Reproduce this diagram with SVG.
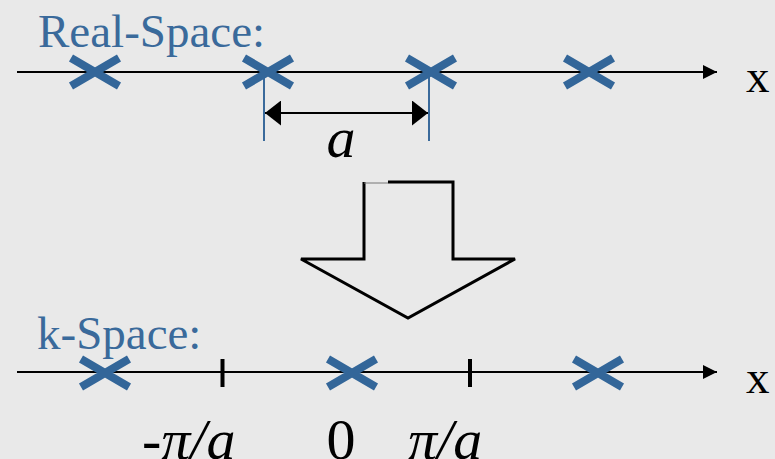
<svg xmlns="http://www.w3.org/2000/svg" width="775" height="459" viewBox="0 0 775 459">
<defs>
<style>
.axis{stroke:#000;stroke-width:2;fill:none}
.cross{stroke:#336699;stroke-width:8;stroke-linecap:butt;fill:none}
.blue{fill:#3a6a9b;font-family:"Liberation Serif",serif;font-size:47px}
.lbl{fill:#000;font-family:"Liberation Serif",serif;font-size:47px}
.math{fill:#000;font-family:"Liberation Serif",serif;font-size:58px;font-style:italic}
.num{fill:#000;font-family:"Liberation Serif",serif;font-size:58px}
.guide{stroke:#3a6a9b;stroke-width:2}
.tick{stroke:#000;stroke-width:4}
</style>
<marker id="ah" markerWidth="14" markerHeight="14" viewBox="0 0 14 14" refX="14" refY="7" orient="auto" markerUnits="userSpaceOnUse">
<path d="M0,0 L14,7 L0,14 Z" fill="#000"/>
</marker>
<marker id="dim" markerWidth="16" markerHeight="25" viewBox="0 0 16 25" refX="16" refY="12.5" orient="auto-start-reverse" markerUnits="userSpaceOnUse">
<path d="M0,0 L16,12.5 L0,25 Z" fill="#000"/>
</marker>
<g id="x">
<path class="cross" d="M-24,-14 L24,14 M-24,14 L24,-14"/>
</g>
</defs>
<rect width="775" height="459" fill="#e9e9e9"/>

<g id="connectors">
<line class="axis" x1="17" y1="72" x2="717" y2="72" marker-end="url(#ah)"/>
<line class="axis" x1="17" y1="372" x2="717" y2="372" marker-end="url(#ah)"/>
<line class="guide" x1="264" y1="72" x2="264" y2="141"/>
<line class="guide" x1="429" y1="72" x2="429" y2="141"/>
<line class="axis" x1="265" y1="113" x2="428" y2="113" marker-start="url(#dim)" marker-end="url(#dim)"/>
</g>

<g id="real-space">
<text class="blue" x="38" y="47">Real-Space:</text>
<use href="#x" x="95" y="72"/>
<use href="#x" x="268" y="72"/>
<use href="#x" x="431" y="72"/>
<use href="#x" x="589" y="72"/>
<text class="lbl" x="746" y="92">x</text>
<text class="math" x="341" y="157" text-anchor="middle">a</text>
</g>

<g id="transform-arrow">
<path d="M388,182 H453 V259 H515 L408,318 L301,259 H364 V182 Z" fill="#e9e9e9" stroke="none"/>
<path d="M388,182 H453 V259 H515 L408,318 L301,259 H364 V182" fill="none" stroke="#000" stroke-width="3" stroke-linejoin="miter"/>
<line x1="364" y1="183" x2="388" y2="183" stroke="#777" stroke-width="1"/>
</g>

<g id="k-space">
<text class="blue" x="37" y="349">k-Space:</text>
<use href="#x" x="105" y="373"/>
<use href="#x" x="352" y="373"/>
<use href="#x" x="598" y="373"/>
<line class="tick" x1="222.5" y1="359" x2="222.5" y2="387"/>
<line class="tick" x1="470" y1="359" x2="470" y2="387"/>
<text class="lbl" x="746" y="393">x</text>
<text class="math" x="142" y="459">-π/a</text>
<text class="num" x="341" y="459" text-anchor="middle">0</text>
<text class="math" x="408" y="459">π/a</text>
</g>
</svg>
